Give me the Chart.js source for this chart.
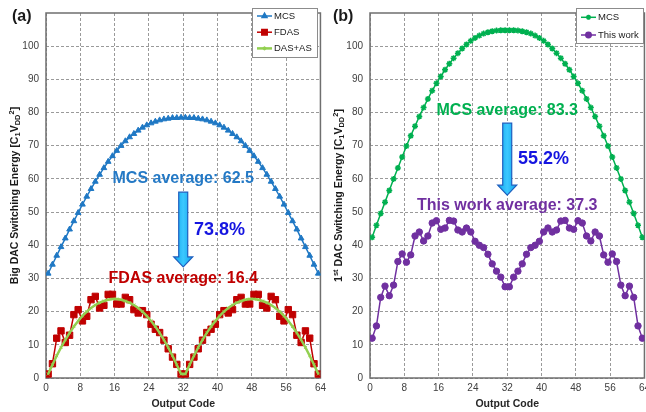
<!DOCTYPE html>
<html>
<head>
<meta charset="utf-8">
<script src="https://cdn.jsdelivr.net/npm/chart.js@4.4.1/dist/chart.umd.min.js"></script>
<style>
  html, body { margin: 0; padding: 0; background: #fff; }
  body { width: 646px; height: 412px; overflow: hidden; position: relative; }
  .panel { position: absolute; top: 0; width: 330px; height: 412px; }
  #panelA { left: 0; }
  #panelB { left: 324px; }
</style>
</head>
<body>
<div class="panel" id="panelA"><canvas id="chartA" width="330" height="412"></canvas></div>
<div class="panel" id="panelB"><canvas id="chartB" width="330" height="412"></canvas></div>
<script>

// output codes of the 6-bit DAC
var codes = [];
for (var c = 0; c < 64; c++) codes.push(c);

var xTicks = [0, 8, 16, 24, 32, 40, 48, 56, 64];
var yTicks = [0, 10, 20, 30, 40, 50, 60, 70, 80, 90, 100];

// (a) big DAC switching energy
var mcsBig = [31.5, 34.2, 36.9, 39.5, 42.1, 44.8, 47.3, 49.8, 52.3, 54.7, 57.0, 59.2, 61.3, 63.3, 65.2, 66.9,
  68.5, 70.0, 71.4, 72.6, 73.6, 74.6, 75.5, 76.2, 76.8, 77.3, 77.7, 78.0, 78.2, 78.4, 78.4, 78.5,
  78.5, 78.4, 78.4, 78.2, 78.0, 77.7, 77.3, 76.8, 76.2, 75.5, 74.6, 73.6, 72.6, 71.4, 70.0, 68.5,
  66.9, 65.2, 63.3, 61.3, 59.2, 57.0, 54.7, 52.3, 49.8, 47.3, 44.8, 42.1, 39.5, 36.9, 34.2, 31.5];

var fdasBig = [1.2, 4.3, 12.0, 14.2, 10.7, 12.9, 19.1, 20.6, 17.2, 18.6, 23.6, 24.6, 21.1, 21.9, 25.2, 25.2,
  22.3, 22.3, 24.3, 23.6, 20.6, 19.6, 20.3, 19.1, 16.2, 14.7, 13.7, 11.4, 8.8, 6.3, 4.1, 1.2,
  1.2, 4.1, 6.3, 8.8, 11.4, 13.7, 14.7, 16.2, 19.1, 20.3, 19.6, 20.6, 23.6, 24.3, 22.3, 22.3,
  25.2, 25.2, 21.9, 21.1, 24.6, 23.6, 18.6, 17.2, 20.6, 19.1, 12.9, 10.7, 14.2, 12.0, 4.3, 1.2];

var dasAsBig = [1.2, 4.0, 6.7, 9.2, 11.5, 13.6, 15.5, 17.2, 18.7, 20.0, 21.1, 22.0, 22.7, 23.2, 23.6, 23.8,
  23.8, 23.6, 23.2, 22.7, 22.0, 21.1, 20.0, 18.7, 17.2, 15.5, 13.6, 11.5, 9.2, 6.7, 4.0, 1.2,
  1.2, 4.0, 6.7, 9.2, 11.5, 13.6, 15.5, 17.2, 18.7, 20.0, 21.1, 22.0, 22.7, 23.2, 23.6, 23.8,
  23.8, 23.6, 23.2, 22.7, 22.0, 21.1, 20.0, 18.7, 17.2, 15.5, 13.6, 11.5, 9.2, 6.7, 4.0, 1.2];

// (b) first DAC switching energy
var mcsFirst = [42.4, 46.0, 49.6, 53.0, 56.5, 60.0, 63.3, 66.6, 69.9, 73.0, 75.9, 78.8, 81.5, 84.1, 86.6, 88.8,
  90.9, 92.9, 94.7, 96.4, 97.9, 99.3, 100.5, 101.6, 102.5, 103.2, 103.8, 104.2, 104.5, 104.7, 104.8, 104.8,
  104.8, 104.8, 104.7, 104.5, 104.2, 103.8, 103.2, 102.5, 101.6, 100.5, 99.3, 97.9, 96.4, 94.7, 92.9, 90.9,
  88.8, 86.6, 84.1, 81.5, 78.8, 75.9, 73.0, 69.9, 66.6, 63.3, 60.0, 56.5, 53.0, 49.6, 46.0, 42.4];

var thisWorkFirst = [12.0, 15.7, 24.3, 27.7, 24.8, 28.0, 35.1, 37.4, 34.9, 37.1, 42.8, 44.0, 41.3, 42.8, 46.7, 47.4,
  44.8, 45.2, 47.5, 47.3, 44.6, 44.0, 45.2, 44.0, 41.2, 40.0, 39.3, 37.3, 34.4, 32.2, 30.4, 27.5,
  27.5, 30.4, 32.2, 34.4, 37.3, 39.3, 40.0, 41.2, 44.0, 45.2, 44.0, 44.6, 47.3, 47.5, 45.2, 44.8,
  47.4, 46.7, 42.8, 41.3, 44.0, 42.8, 37.1, 34.9, 37.4, 35.1, 28.0, 24.8, 27.7, 24.3, 15.7, 12.0];

// averages and reductions written on the plots
var averagesBig = [62.5, 16.4];
var averagesFirst = [83.3, 37.3];
var reductions = [73.8, 55.2];

var FONT = 'Arial, "Liberation Sans", sans-serif';
Chart.defaults.font.family = FONT;

function points(values) {
  return values.map(function (v, i) { return { x: codes[i] + 0.5, y: v }; });
}

// solid box round the plot area
var frame = {
  id: 'frame',
  beforeDatasetsDraw: function (chart) {
    var a = chart.chartArea, ctx = chart.ctx;
    ctx.save();
    ctx.strokeStyle = '#6f6f6f';
    ctx.lineWidth = 1.5;
    ctx.strokeRect(a.left, a.top, a.right - a.left, a.bottom - a.top);
    ctx.restore();
  }
};

// vertical axis title with sub/superscripts, plus the panel tag
var yTitle = {
  id: 'yTitle',
  afterDraw: function (chart, args, opts) {
    var ctx = chart.ctx, a = chart.chartArea;
    var parts = opts.parts, widths = [], total = 0;
    for (var i = 0; i < parts.length; i++) {
      ctx.font = 'bold ' + parts[i].size + 'px ' + FONT;
      widths.push(ctx.measureText(parts[i].t).width);
      total += widths[i];
    }
    ctx.save();
    ctx.fillStyle = '#1a1a1a';
    ctx.translate(opts.x, (a.top + a.bottom) / 2);
    ctx.rotate(-Math.PI / 2);
    ctx.textBaseline = 'alphabetic';
    ctx.textAlign = 'left';
    var cx = -total / 2;
    for (var j = 0; j < parts.length; j++) {
      ctx.font = 'bold ' + parts[j].size + 'px ' + FONT;
      ctx.fillText(parts[j].t, cx, 4 + (parts[j].dy || 0));
      cx += widths[j];
    }
    ctx.restore();

    ctx.save();
    ctx.fillStyle = '#1a1a1a';
    ctx.font = 'bold 16px ' + FONT;
    ctx.textBaseline = 'middle';
    ctx.fillText(opts.tag, opts.tagX, 16.5);
    ctx.restore();
  }
};

// legend box sitting in the top right corner
var boxLegend = {
  id: 'boxLegend',
  afterDraw: function (chart, args, opts) {
    var ctx = chart.ctx;
    ctx.save();
    ctx.fillStyle = '#fff';
    ctx.strokeStyle = '#8c8c8c';
    ctx.lineWidth = 1;
    ctx.fillRect(opts.x, opts.y, opts.w, opts.h);
    ctx.strokeRect(opts.x + 0.5, opts.y + 0.5, opts.w, opts.h);
    chart.data.datasets.forEach(function (ds, i) {
      var y = opts.y + opts.first + i * opts.gap;
      ctx.strokeStyle = ds.borderColor;
      ctx.fillStyle = ds.borderColor;
      ctx.lineWidth = ds.borderWidth;
      ctx.beginPath();
      ctx.moveTo(opts.x + 5, y);
      ctx.lineTo(opts.x + 20, y);
      ctx.stroke();
      Chart.helpers.drawPoint(ctx, {
        pointStyle: ds.pointStyle, rotation: 0,
        radius: ds.pointRadius * 0.85, borderWidth: ds.pointBorderWidth
      }, opts.x + 12.5, y);
      ctx.fillStyle = '#1a1a1a';
      ctx.font = '9.5px ' + FONT;
      ctx.textBaseline = 'middle';
      ctx.fillText(ds.label, opts.x + 22, y);
    });
    ctx.restore();
  }
};

function drawArrow(ctx, x, yTop, yHead, yTip) {
  ctx.save();
  ctx.beginPath();
  ctx.moveTo(x - 4.5, yTop);
  ctx.lineTo(x + 4.5, yTop);
  ctx.lineTo(x + 4.5, yHead);
  ctx.lineTo(x + 9.5, yHead);
  ctx.lineTo(x, yTip);
  ctx.lineTo(x - 9.5, yHead);
  ctx.lineTo(x - 4.5, yHead);
  ctx.closePath();
  var g = ctx.createLinearGradient(x - 9, 0, x + 9, 0);
  g.addColorStop(0, '#0fa6ec');
  g.addColorStop(0.5, '#3cc8ff');
  g.addColorStop(1, '#0fa6ec');
  ctx.fillStyle = g;
  ctx.fill();
  ctx.strokeStyle = '#1f5fbf';
  ctx.lineWidth = 1.2;
  ctx.stroke();
  ctx.restore();
}

// text notes and the reduction arrow, placed in data units
var notes = {
  id: 'notes',
  afterDatasetsDraw: function (chart, args, opts) {
    var ctx = chart.ctx, xs = chart.scales.x, ys = chart.scales.y;
    opts.items.forEach(function (n) {
      if (n.arrow) {
        drawArrow(ctx, xs.getPixelForValue(n.x), ys.getPixelForValue(n.from),
          ys.getPixelForValue(n.head), ys.getPixelForValue(n.to));
        return;
      }
      ctx.save();
      ctx.font = 'bold ' + n.size + 'px ' + FONT;
      ctx.fillStyle = n.color;
      ctx.textAlign = n.align || 'center';
      ctx.textBaseline = 'middle';
      ctx.fillText(n.text, xs.getPixelForValue(n.x), ys.getPixelForValue(n.y));
      ctx.restore();
    });
  }
};

function scales() {
  return {
    x: {
      type: 'linear', min: 0, max: 64,
      afterBuildTicks: function (s) { s.ticks = xTicks.map(function (v) { return { value: v }; }); },
      afterFit: function (s) { s.height = 34; },
      grid: { color: '#9a9a9a', drawTicks: false },
      border: { display: false, dash: [3, 2] },
      ticks: { padding: 4, color: '#404040', font: { size: 10 } },
      title: {
        display: true, text: 'Output Code', color: '#262626',
        font: { size: 10.5, weight: 'bold' }, padding: { top: 0, bottom: 2 }
      }
    },
    y: {
      type: 'linear', min: 0, max: 110,
      afterBuildTicks: function (s) { s.ticks = yTicks.map(function (v) { return { value: v }; }); },
      afterFit: function (s) { s.width = 46; },
      grid: { color: '#9a9a9a', drawTicks: false },
      border: { display: false, dash: [3, 2] },
      ticks: { padding: 7, color: '#404040', font: { size: 10 } }
    }
  };
}

function options(extra) {
  return {
    responsive: false,
    animation: false,
    events: [],
    layout: { padding: { top: 7, right: 9, bottom: 0, left: 0 } },
    elements: { line: { tension: 0 } },
    scales: scales(),
    plugins: Object.assign({ legend: { display: false }, tooltip: { enabled: false } }, extra)
  };
}

var energyUnit = [
  { t: 'V', size: 10.5 }, { t: 'DD', size: 7.5, dy: 2.5 }, { t: '2', size: 7.5, dy: -4 }, { t: ']', size: 10.5 }
];

new Chart(document.getElementById('chartA'), {
  type: 'line',
  data: {
    datasets: [
      { label: 'MCS', data: points(mcsBig), borderColor: '#1f78c4', backgroundColor: '#1f78c4',
        borderWidth: 1.5, pointStyle: 'triangle', pointRadius: 3.3, pointBorderWidth: 1, order: 2 },
      { label: 'FDAS', data: points(fdasBig), borderColor: '#c00000', backgroundColor: '#c00000',
        borderWidth: 1.5, pointStyle: 'rect', pointRadius: 4.5, pointBorderWidth: 1, order: 1 },
      { label: 'DAS+AS', data: points(dasAsBig), borderColor: '#92d050', backgroundColor: '#92d050',
        borderWidth: 2.5, pointStyle: 'crossRot', pointRadius: 2, pointBorderWidth: 1, order: 0 }
    ]
  },
  options: options({
    yTitle: {
      x: 13.5, tag: '(a)', tagX: 12,
      parts: [{ t: 'Big DAC Switching Energy [C', size: 10.5 }, { t: '1', size: 7.5, dy: 2.5 }].concat(energyUnit)
    },
    boxLegend: { x: 252, y: 8, w: 65, h: 49, first: 8, gap: 16.2 },
    notes: {
      items: [
        { text: 'MCS average: ' + averagesBig[0], x: 32, y: 60, size: 16, color: '#2479c5' },
        { arrow: true, x: 32, from: 56, head: 36.5, to: 33.5 },
        { text: reductions[0] + '%', x: 34.5, y: 44.5, size: 18, color: '#1515e0', align: 'left' },
        { text: 'FDAS average: ' + averagesBig[1], x: 32, y: 30, size: 16, color: '#c00000' }
      ]
    }
  }),
  plugins: [frame, yTitle, boxLegend, notes]
});

new Chart(document.getElementById('chartB'), {
  type: 'line',
  data: {
    datasets: [
      { label: 'MCS', data: points(mcsFirst), borderColor: '#00b050', backgroundColor: '#00b050',
        borderWidth: 1.5, pointStyle: 'star', pointRadius: 3, pointBorderWidth: 1.5 },
      { label: 'This work', data: points(thisWorkFirst), borderColor: '#7030a0', backgroundColor: '#7030a0',
        borderWidth: 1.5, pointStyle: 'circle', pointRadius: 3.2, pointBorderWidth: 1 }
    ]
  },
  options: options({
    yTitle: {
      x: 13.5, tag: '(b)', tagX: 9,
      parts: [{ t: '1', size: 10.5 }, { t: 'st', size: 7.5, dy: -4 },
        { t: ' DAC Switching Energy [C', size: 10.5 }, { t: '1', size: 7.5, dy: 2.5 }].concat(energyUnit)
    },
    boxLegend: { x: 252, y: 8, w: 67, h: 35, first: 9.3, gap: 17.7 },
    notes: {
      items: [
        { text: 'MCS average: ' + averagesFirst[0], x: 32, y: 80.6, size: 16, color: '#00b050' },
        { arrow: true, x: 32, from: 76.8, head: 58.1, to: 55.1 },
        { text: reductions[1] + '%', x: 34.5, y: 66.1, size: 18, color: '#1515e0', align: 'left' },
        { text: 'This work average: ' + averagesFirst[1], x: 32, y: 51.9, size: 16, color: '#7030a0' }
      ]
    }
  }),
  plugins: [frame, yTitle, boxLegend, notes]
});

</script>
</body>
</html>
